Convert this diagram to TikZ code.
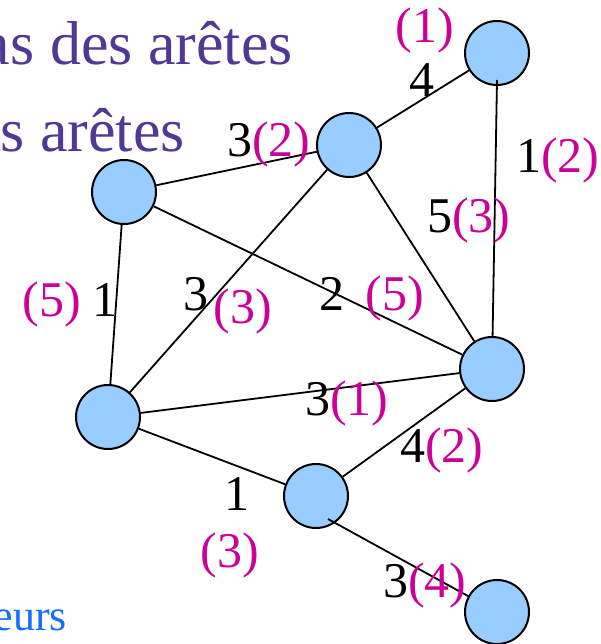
\documentclass[tikz,border=0pt]{standalone}
\usepackage{fontspec}
\setmainfont{Liberation Serif}
\definecolor{purp}{RGB}{80,56,150}
\definecolor{mag}{RGB}{204,0,153}
\definecolor{bluet}{RGB}{20,110,255}
\definecolor{nodefill}{RGB}{153,204,255}
\begin{document}
\begin{tikzpicture}[x=1pt,y=-1pt,
  vtx/.style={circle,draw=black,line width=2pt,fill=nodefill,minimum size=64pt,inner sep=0pt},
  edge/.style={line width=1.8pt},
  num/.style={inner sep=0pt,font=\fontsize{50}{60}\selectfont,text=black},
  par/.style={inner sep=0pt,font=\fontsize{50}{60}\selectfont,text=mag},
  title/.style={inner sep=0pt,font=\fontsize{62}{72}\selectfont}]
\useasboundingbox (0,0) rectangle (601,644);
\clip (0,0) rectangle (601,644);
% header texts
\node[title,text=purp,anchor=base east] (t1) at (293,65) {as des arêtes};
\node[title,text=purp,anchor=base east] (t2) at (185,152) {s arêtes};
\node[inner sep=0pt,font=\fontsize{44}{52}\selectfont,text=bluet,anchor=base east] (t3) at (67,630) {eurs};
% vertices
\node[vtx] (A) at (497,53) {};
\node[vtx] (B) at (349,145) {};
\node[vtx] (C) at (124,192) {};
\node[vtx] (D) at (492,369) {};
\node[vtx] (E) at (108,417) {};
\node[vtx] (F) at (316,496) {};
\node[vtx] (G) at (497,612) {};
\coordinate (ad) at (497,80);
\coordinate (fg) at (328,519);
% edges
\draw[edge] (A) -- (B);
\draw[edge] (ad) -- (D);
\draw[edge] (B) -- (C);
\draw[edge] (B) -- (D);
\draw[edge] (B) -- (E);
\draw[edge] (C) -- (D);
\draw[edge] (C) -- (E);
\draw[edge] (E) -- (D);
\draw[edge] (D) -- (F);
\draw[edge] (E) -- (F);
\draw[edge] (fg) -- (G);
% labels
\node[par,anchor=base] (l1) at (425,43) {(1)};
\node[num,anchor=base] (l2) at (422,97) {4};
\node[num,anchor=base west] (l3) at (516,173) {1\textcolor{mag}{(2)}};
\node[num,anchor=base west] (l4) at (427,232) {5\textcolor{mag}{(3)}};
\node[num,anchor=base west] (l5) at (227,157) {3\textcolor{mag}{(2)}};
\node[par,anchor=base] (l6) at (52,316) {(5)};
\node[num,anchor=base] (l7) at (105,316) {1};
\node[num,anchor=base] (l8) at (196,310) {3};
\node[par,anchor=base] (l9) at (243,323) {(3)};
\node[num,anchor=base] (l10) at (332,310) {2};
\node[par,anchor=base] (l11) at (395,310) {(5)};
\node[num,anchor=base west] (l12) at (305,415) {3\textcolor{mag}{(1)}};
\node[num,anchor=base west] (l13) at (400,462) {4\textcolor{mag}{(2)}};
\node[num,anchor=base] (l14) at (237,510) {1};
\node[par,anchor=base] (l15) at (230,567) {(3)};
\node[num,anchor=base west] (l16) at (383,597) {3\textcolor{mag}{(4)}};
\end{tikzpicture}
\end{document}
